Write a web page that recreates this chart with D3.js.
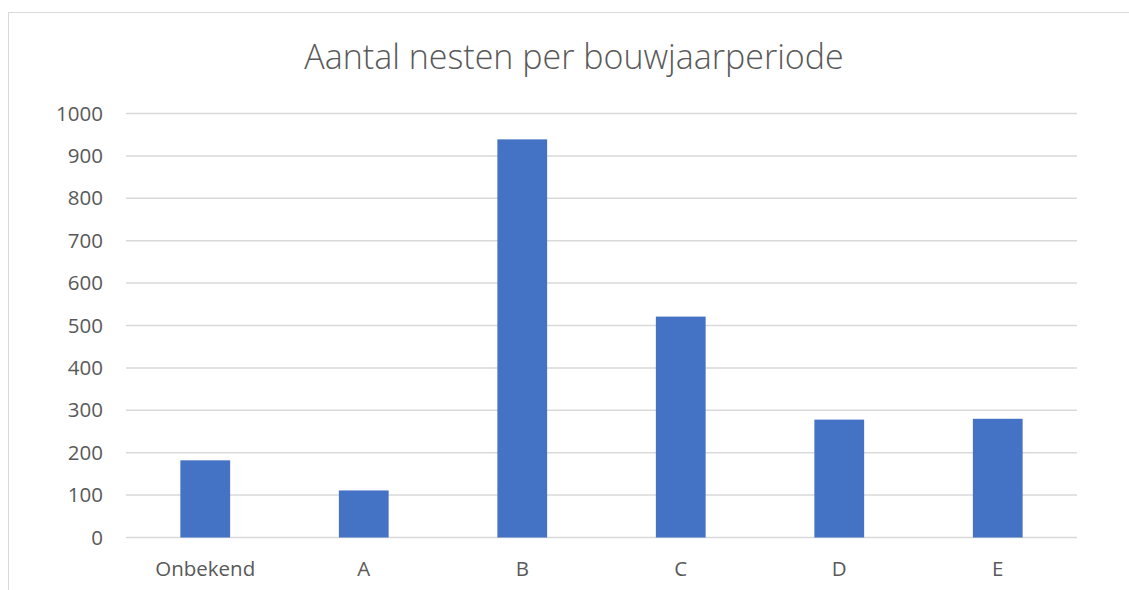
<!DOCTYPE html>
<html>
<head>
<meta charset="utf-8">
<script src="https://cdn.jsdelivr.net/npm/d3@7"></script>
<style>
  body { margin: 0; background: #fff; }
  text { font-family: "Open Sans", "Noto Sans", sans-serif; fill: #595959; }
</style>
</head>
<body>
<svg id="chart" width="1129" height="590"></svg>
<script>
// chart data
var categories = ["Onbekend", "A", "B", "C", "D", "E"];
var nests = [182, 111, 939, 521, 278, 280];
var yTicks = [0, 100, 200, 300, 400, 500, 600, 700, 800, 900, 1000];

var svg = d3.select("#chart");

// plot area bounds (don't call it "top", that's window.top)
var plotLeft = 126, plotRight = 1077, plotTop = 113.5, plotBottom = 537.5;

// outer chart border (runs off the bottom / right of the picture)
svg.append("rect")
  .attr("x", 8.5).attr("y", 12.5)
  .attr("width", 1140).attr("height", 600)
  .attr("fill", "none")
  .attr("stroke", "#d9d9d9")
  .attr("stroke-width", 1);

var x = d3.scaleBand()
  .domain(categories)
  .range([plotLeft, plotRight])
  .paddingInner(0.686)
  .paddingOuter(0.343);

var y = d3.scaleLinear()
  .domain([0, 1000])
  .range([plotBottom, plotTop]);

// gridlines
svg.append("g")
  .selectAll("line")
  .data(yTicks)
  .join("line")
    .attr("x1", plotLeft).attr("x2", plotRight)
    .attr("y1", function(d) { return y(d); })
    .attr("y2", function(d) { return y(d); })
    .attr("stroke", "#d9d9d9")
    .attr("stroke-width", 1.5);

// y axis labels
var yAxis = d3.axisLeft(y).tickValues(yTicks).tickFormat(d3.format("d")).tickSize(0).tickPadding(0);
svg.append("g")
  .attr("transform", "translate(103,0)")
  .call(yAxis)
  .call(function(g) { g.select(".domain").remove(); })
  .selectAll("text")
    .attr("fill", "#595959")
    .style("font-size", "20.5px")
    .style("font-family", "'Open Sans', sans-serif");

// bars
svg.append("g")
  .selectAll("rect")
  .data(nests)
  .join("rect")
    .attr("x", function(d, i) { return x(categories[i]); })
    .attr("width", x.bandwidth())
    .attr("y", function(d) { return y(d); })
    .attr("height", function(d) { return y(0) - y(d); })
    .attr("fill", "#4472c4");

// x axis labels
var xAxis = d3.axisBottom(x).tickSize(0).tickPadding(0);
svg.append("g")
  .attr("transform", "translate(0,561)")
  .call(xAxis)
  .call(function(g) { g.select(".domain").remove(); })
  .selectAll("text")
    .attr("fill", "#595959")
    .style("font-size", "20.5px")
    .style("font-family", "'Open Sans', sans-serif");

// title
svg.append("text")
  .attr("x", 574)
  .attr("y", 69)
  .attr("text-anchor", "middle")
  .style("font-size", "34px")
  .style("font-weight", 300)
  .text("Aantal nesten per bouwjaarperiode");
</script>
</body>
</html>
